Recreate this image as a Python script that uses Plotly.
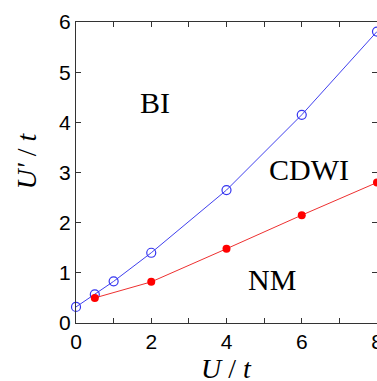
import plotly.graph_objects as go

# Data
blue_x = [0, 0.5, 1, 2, 4, 6, 8]
blue_y = [0.32, 0.57, 0.83, 1.40, 2.65, 4.15, 5.81]
red_x = [0.5, 2, 4, 6, 8]
red_y = [0.50, 0.82, 1.48, 2.15, 2.80]

region_labels = ["BI", "CDWI", "NM"]
region_x = [2.1, 6.2, 5.2]
region_y = [4.4, 3.05, 0.86]

fig = go.Figure()
fig.add_trace(go.Scatter(
    x=blue_x, y=blue_y, mode="lines+markers",
    line=dict(color="#4040ee", width=1),
    marker=dict(symbol="circle-open", size=9, color="#3535f0", line=dict(width=1.2)),
    cliponaxis=False, showlegend=False))
fig.add_trace(go.Scatter(
    x=red_x, y=red_y, mode="lines+markers",
    line=dict(color="#ee3030", width=1),
    marker=dict(symbol="circle", size=8, color="#ff0000"),
    cliponaxis=False, showlegend=False))

for t, x, y in zip(region_labels, region_x, region_y):
    fig.add_annotation(x=x, y=y, text=t, showarrow=False,
                       font=dict(family="Liberation Serif", size=30, color="black"))

fig.add_annotation(xref="paper", yref="paper", x=0.5, y=-0.15,
                   xanchor="center", yanchor="middle",
                   text="<i>U</i> / <i>t</i>", showarrow=False,
                   font=dict(family="Liberation Serif", size=28, color="black"))
fig.add_annotation(xref="paper", yref="paper", x=-0.163, y=0.54,
                   xanchor="center", yanchor="middle",
                   text="<i>U'</i> / <i>t</i>", showarrow=False, textangle=-90,
                   font=dict(family="Liberation Serif", size=28, color="black"))

axis_common = dict(
    showgrid=False, zeroline=False, showline=True, linecolor="#333333", linewidth=1,
    mirror="ticks", ticks="inside", ticklen=5, tickcolor="#333333", automargin=False,
    tickfont=dict(family="Liberation Sans", size=21, color="black"),
)
fig.update_xaxes(range=[0, 8], dtick=2, tick0=0, ticklabeloverflow="allow",
                 minor=dict(dtick=1, ticks="inside", ticklen=5, tickcolor="#333333"),
                 **axis_common)
fig.update_yaxes(range=[0, 6], dtick=1, tick0=0, **axis_common)

fig.update_layout(
    width=377, height=381,
    margin=dict(l=76, r=0, t=22, b=58, autoexpand=False),
    plot_bgcolor="white", paper_bgcolor="white",
)

post = (
    "document.documentElement.style.overflow='hidden';"
    "document.body.style.margin='0px';"
    "document.body.style.overflow='hidden';"
)
fig.write_html("out.html", config={"displayModeBar": False}, post_script=post)
